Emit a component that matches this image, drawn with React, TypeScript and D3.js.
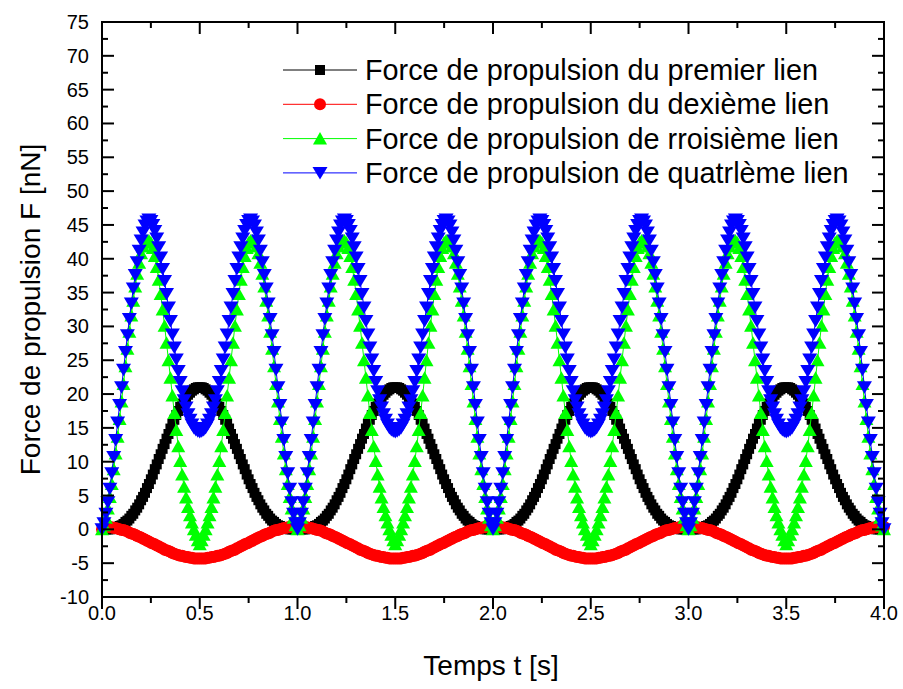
import React from 'react';
import * as d3 from 'd3';

const W = 903;
const H = 689;
const PLOT = { left: 102, right: 884, top: 22, bottom: 597 };

const xTickValues = [0, 0.5, 1, 1.5, 2, 2.5, 3, 3.5, 4];
const yTickValues = [-10, -5, 0, 5, 10, 15, 20, 25, 30, 35, 40, 45, 50, 55, 60, 65, 70, 75];
// samples every 0.01 s from 0 to 4 s (401 values per series)
const timeStep = 0.01;

const seriesNames = [
  'Force de propulsion du premier lien',
  'Force de propulsion du dexième lien',
  'Force de propulsion de rroisième lien',
  'Force de propulsion de quatrlème lien',
];

const blackValues = [
  0,0,0,0,0,0.1,0.1,0.2,0.3,0.5,0.6,0.8,1.1,1.3,1.6,2.0,2.3,2.8,3.2,3.7,4.3,4.8,5.4,6.1,6.7,7.4,8.1,8.9,9.6,10.4,11.1,11.9,12.6,13.4,14.1,14.9,15.6,16.2,16.9,17.5,18.1,18.6,19.1,19.5,19.9,20.2,20.5,20.7,20.9,21.0,21.0,
  21.0,20.9,20.7,20.5,20.2,19.9,19.5,19.1,18.6,18.1,17.5,16.9,16.2,15.6,14.9,14.1,13.4,12.6,11.9,11.1,10.4,9.6,8.9,8.1,7.4,6.7,6.1,5.4,4.8,4.3,3.7,3.2,2.8,2.3,2.0,1.6,1.3,1.1,0.8,0.6,0.5,0.3,0.2,0.1,0.1,0,0,0,0,0,
  0,0,0,0,0.1,0.1,0.2,0.3,0.5,0.6,0.8,1.1,1.3,1.6,2.0,2.3,2.8,3.2,3.7,4.3,4.8,5.4,6.1,6.7,7.4,8.1,8.9,9.6,10.4,11.1,11.9,12.6,13.4,14.1,14.9,15.6,16.2,16.9,17.5,18.1,18.6,19.1,19.5,19.9,20.2,20.5,20.7,20.9,21.0,21.0,
  21.0,20.9,20.7,20.5,20.2,19.9,19.5,19.1,18.6,18.1,17.5,16.9,16.2,15.6,14.9,14.1,13.4,12.6,11.9,11.1,10.4,9.6,8.9,8.1,7.4,6.7,6.1,5.4,4.8,4.3,3.7,3.2,2.8,2.3,2.0,1.6,1.3,1.1,0.8,0.6,0.5,0.3,0.2,0.1,0.1,0,0,0,0,0,
  0,0,0,0,0.1,0.1,0.2,0.3,0.5,0.6,0.8,1.1,1.3,1.6,2.0,2.3,2.8,3.2,3.7,4.3,4.8,5.4,6.1,6.7,7.4,8.1,8.9,9.6,10.4,11.1,11.9,12.6,13.4,14.1,14.9,15.6,16.2,16.9,17.5,18.1,18.6,19.1,19.5,19.9,20.2,20.5,20.7,20.9,21.0,21.0,
  21.0,20.9,20.7,20.5,20.2,19.9,19.5,19.1,18.6,18.1,17.5,16.9,16.2,15.6,14.9,14.1,13.4,12.6,11.9,11.1,10.4,9.6,8.9,8.1,7.4,6.7,6.1,5.4,4.8,4.3,3.7,3.2,2.8,2.3,2.0,1.6,1.3,1.1,0.8,0.6,0.5,0.3,0.2,0.1,0.1,0,0,0,0,0,
  0,0,0,0,0.1,0.1,0.2,0.3,0.5,0.6,0.8,1.1,1.3,1.6,2.0,2.3,2.8,3.2,3.7,4.3,4.8,5.4,6.1,6.7,7.4,8.1,8.9,9.6,10.4,11.1,11.9,12.6,13.4,14.1,14.9,15.6,16.2,16.9,17.5,18.1,18.6,19.1,19.5,19.9,20.2,20.5,20.7,20.9,21.0,21.0,
  21.0,20.9,20.7,20.5,20.2,19.9,19.5,19.1,18.6,18.1,17.5,16.9,16.2,15.6,14.9,14.1,13.4,12.6,11.9,11.1,10.4,9.6,8.9,8.1,7.4,6.7,6.1,5.4,4.8,4.3,3.7,3.2,2.8,2.3,2.0,1.6,1.3,1.1,0.8,0.6,0.5,0.3,0.2,0.1,0.1,0,0,0,0,0,
];

const redValues = [
  0.0,0.2,0.3,0.4,0.3,0.3,0.2,0.2,0.1,0.0,-0.1,-0.1,-0.2,-0.3,-0.5,-0.6,-0.7,-0.8,-1.0,-1.1,-1.2,-1.4,-1.5,-1.7,-1.8,-2.0,-2.1,-2.2,-2.4,-2.5,-2.7,-2.8,-3.0,-3.1,-3.2,-3.3,-3.5,-3.6,-3.7,-3.8,-3.9,-3.9,-4.0,-4.1,-4.1,-4.2,-4.2,-4.3,-4.3,-4.3,-4.3,
  -4.3,-4.3,-4.3,-4.2,-4.2,-4.1,-4.1,-4.0,-3.9,-3.9,-3.8,-3.7,-3.6,-3.5,-3.3,-3.2,-3.1,-3.0,-2.8,-2.7,-2.5,-2.4,-2.2,-2.1,-2.0,-1.8,-1.7,-1.5,-1.4,-1.2,-1.1,-1.0,-0.8,-0.7,-0.6,-0.5,-0.3,-0.2,-0.1,-0.1,0.0,0.1,0.2,0.2,0.3,0.3,0.4,0.4,0.4,0.4,
  0.4,0.4,0.4,0.3,0.3,0.2,0.2,0.1,0.0,-0.1,-0.1,-0.2,-0.3,-0.5,-0.6,-0.7,-0.8,-1.0,-1.1,-1.2,-1.4,-1.5,-1.7,-1.8,-2.0,-2.1,-2.2,-2.4,-2.5,-2.7,-2.8,-3.0,-3.1,-3.2,-3.3,-3.5,-3.6,-3.7,-3.8,-3.9,-3.9,-4.0,-4.1,-4.1,-4.2,-4.2,-4.3,-4.3,-4.3,-4.3,
  -4.3,-4.3,-4.3,-4.2,-4.2,-4.1,-4.1,-4.0,-3.9,-3.9,-3.8,-3.7,-3.6,-3.5,-3.3,-3.2,-3.1,-3.0,-2.8,-2.7,-2.5,-2.4,-2.2,-2.1,-2.0,-1.8,-1.7,-1.5,-1.4,-1.2,-1.1,-1.0,-0.8,-0.7,-0.6,-0.5,-0.3,-0.2,-0.1,-0.1,0.0,0.1,0.2,0.2,0.3,0.3,0.4,0.4,0.4,0.4,
  0.4,0.4,0.4,0.3,0.3,0.2,0.2,0.1,0.0,-0.1,-0.1,-0.2,-0.3,-0.5,-0.6,-0.7,-0.8,-1.0,-1.1,-1.2,-1.4,-1.5,-1.7,-1.8,-2.0,-2.1,-2.2,-2.4,-2.5,-2.7,-2.8,-3.0,-3.1,-3.2,-3.3,-3.5,-3.6,-3.7,-3.8,-3.9,-3.9,-4.0,-4.1,-4.1,-4.2,-4.2,-4.3,-4.3,-4.3,-4.3,
  -4.3,-4.3,-4.3,-4.2,-4.2,-4.1,-4.1,-4.0,-3.9,-3.9,-3.8,-3.7,-3.6,-3.5,-3.3,-3.2,-3.1,-3.0,-2.8,-2.7,-2.5,-2.4,-2.2,-2.1,-2.0,-1.8,-1.7,-1.5,-1.4,-1.2,-1.1,-1.0,-0.8,-0.7,-0.6,-0.5,-0.3,-0.2,-0.1,-0.1,0.0,0.1,0.2,0.2,0.3,0.3,0.4,0.4,0.4,0.4,
  0.4,0.4,0.4,0.3,0.3,0.2,0.2,0.1,0.0,-0.1,-0.1,-0.2,-0.3,-0.5,-0.6,-0.7,-0.8,-1.0,-1.1,-1.2,-1.4,-1.5,-1.7,-1.8,-2.0,-2.1,-2.2,-2.4,-2.5,-2.7,-2.8,-3.0,-3.1,-3.2,-3.3,-3.5,-3.6,-3.7,-3.8,-3.9,-3.9,-4.0,-4.1,-4.1,-4.2,-4.2,-4.3,-4.3,-4.3,-4.3,
  -4.3,-4.3,-4.3,-4.2,-4.2,-4.1,-4.1,-4.0,-3.9,-3.9,-3.8,-3.7,-3.6,-3.5,-3.3,-3.2,-3.1,-3.0,-2.8,-2.7,-2.5,-2.4,-2.2,-2.1,-2.0,-1.8,-1.7,-1.5,-1.4,-1.2,-1.1,-1.0,-0.8,-0.7,-0.6,-0.5,-0.3,-0.2,-0.1,-0.1,0.0,0.1,0.2,0.2,0.3,0.3,0.4,0.4,0.4,0.4,
];

const greenValues = [
  0,0.6,1.7,3.1,4.8,6.7,8.9,11.2,13.7,16.3,18.9,21.5,24.1,26.7,29.2,31.6,33.8,35.9,37.8,39.4,40.8,41.8,42.4,42.7,42.7,42.4,41.6,40.4,38.8,36.9,34.8,32.5,30.1,27.6,25.0,22.4,19.8,17.2,14.7,12.3,10.1,8.1,6.3,4.7,3.3,2.1,1.0,0.0,-0.8,-1.6,-2.2,
  -1.6,-0.8,0.0,1.0,2.1,3.3,4.7,6.3,8.1,10.1,12.3,14.7,17.2,19.8,22.4,25.0,27.6,30.1,32.5,34.8,36.9,38.8,40.4,41.6,42.4,42.7,42.7,42.4,41.8,40.8,39.4,37.8,35.9,33.8,31.6,29.2,26.7,24.1,21.5,18.9,16.3,13.7,11.2,8.9,6.7,4.8,3.1,1.7,0.6,0,
  0.6,1.7,3.1,4.8,6.7,8.9,11.2,13.7,16.3,18.9,21.5,24.1,26.7,29.2,31.6,33.8,35.9,37.8,39.4,40.8,41.8,42.4,42.7,42.7,42.4,41.6,40.4,38.8,36.9,34.8,32.5,30.1,27.6,25.0,22.4,19.8,17.2,14.7,12.3,10.1,8.1,6.3,4.7,3.3,2.1,1.0,0.0,-0.8,-1.6,-2.2,
  -1.6,-0.8,0.0,1.0,2.1,3.3,4.7,6.3,8.1,10.1,12.3,14.7,17.2,19.8,22.4,25.0,27.6,30.1,32.5,34.8,36.9,38.8,40.4,41.6,42.4,42.7,42.7,42.4,41.8,40.8,39.4,37.8,35.9,33.8,31.6,29.2,26.7,24.1,21.5,18.9,16.3,13.7,11.2,8.9,6.7,4.8,3.1,1.7,0.6,0,
  0.6,1.7,3.1,4.8,6.7,8.9,11.2,13.7,16.3,18.9,21.5,24.1,26.7,29.2,31.6,33.8,35.9,37.8,39.4,40.8,41.8,42.4,42.7,42.7,42.4,41.6,40.4,38.8,36.9,34.8,32.5,30.1,27.6,25.0,22.4,19.8,17.2,14.7,12.3,10.1,8.1,6.3,4.7,3.3,2.1,1.0,0.0,-0.8,-1.6,-2.2,
  -1.6,-0.8,0.0,1.0,2.1,3.3,4.7,6.3,8.1,10.1,12.3,14.7,17.2,19.8,22.4,25.0,27.6,30.1,32.5,34.8,36.9,38.8,40.4,41.6,42.4,42.7,42.7,42.4,41.8,40.8,39.4,37.8,35.9,33.8,31.6,29.2,26.7,24.1,21.5,18.9,16.3,13.7,11.2,8.9,6.7,4.8,3.1,1.7,0.6,0,
  0.6,1.7,3.1,4.8,6.7,8.9,11.2,13.7,16.3,18.9,21.5,24.1,26.7,29.2,31.6,33.8,35.9,37.8,39.4,40.8,41.8,42.4,42.7,42.7,42.4,41.6,40.4,38.8,36.9,34.8,32.5,30.1,27.6,25.0,22.4,19.8,17.2,14.7,12.3,10.1,8.1,6.3,4.7,3.3,2.1,1.0,0.0,-0.8,-1.6,-2.2,
  -1.6,-0.8,0.0,1.0,2.1,3.3,4.7,6.3,8.1,10.1,12.3,14.7,17.2,19.8,22.4,25.0,27.6,30.1,32.5,34.8,36.9,38.8,40.4,41.6,42.4,42.7,42.7,42.4,41.8,40.8,39.4,37.8,35.9,33.8,31.6,29.2,26.7,24.1,21.5,18.9,16.3,13.7,11.2,8.9,6.7,4.8,3.1,1.7,0.6,0,
];

const blueValues = [
  0,0.9,2.3,4.0,6.0,8.3,10.7,13.2,15.8,18.4,21.0,23.6,26.2,28.7,31.1,33.4,35.6,37.6,39.5,41.2,42.7,43.9,44.9,45.5,45.8,45.6,45.0,44.1,43.0,41.7,40.2,38.5,36.7,34.8,32.8,30.8,28.8,26.9,25.1,23.4,21.8,20.4,19.1,18.0,17.0,16.2,15.5,15.0,14.7,14.5,14.4,
  14.5,14.7,15.0,15.5,16.2,17.0,18.0,19.1,20.4,21.8,23.4,25.1,26.9,28.8,30.8,32.8,34.8,36.7,38.5,40.2,41.7,43.0,44.1,45.0,45.6,45.8,45.5,44.9,43.9,42.7,41.2,39.5,37.6,35.6,33.4,31.1,28.7,26.2,23.6,21.0,18.4,15.8,13.2,10.7,8.3,6.0,4.0,2.3,0.9,0,
  0.9,2.3,4.0,6.0,8.3,10.7,13.2,15.8,18.4,21.0,23.6,26.2,28.7,31.1,33.4,35.6,37.6,39.5,41.2,42.7,43.9,44.9,45.5,45.8,45.6,45.0,44.1,43.0,41.7,40.2,38.5,36.7,34.8,32.8,30.8,28.8,26.9,25.1,23.4,21.8,20.4,19.1,18.0,17.0,16.2,15.5,15.0,14.7,14.5,14.4,
  14.5,14.7,15.0,15.5,16.2,17.0,18.0,19.1,20.4,21.8,23.4,25.1,26.9,28.8,30.8,32.8,34.8,36.7,38.5,40.2,41.7,43.0,44.1,45.0,45.6,45.8,45.5,44.9,43.9,42.7,41.2,39.5,37.6,35.6,33.4,31.1,28.7,26.2,23.6,21.0,18.4,15.8,13.2,10.7,8.3,6.0,4.0,2.3,0.9,0,
  0.9,2.3,4.0,6.0,8.3,10.7,13.2,15.8,18.4,21.0,23.6,26.2,28.7,31.1,33.4,35.6,37.6,39.5,41.2,42.7,43.9,44.9,45.5,45.8,45.6,45.0,44.1,43.0,41.7,40.2,38.5,36.7,34.8,32.8,30.8,28.8,26.9,25.1,23.4,21.8,20.4,19.1,18.0,17.0,16.2,15.5,15.0,14.7,14.5,14.4,
  14.5,14.7,15.0,15.5,16.2,17.0,18.0,19.1,20.4,21.8,23.4,25.1,26.9,28.8,30.8,32.8,34.8,36.7,38.5,40.2,41.7,43.0,44.1,45.0,45.6,45.8,45.5,44.9,43.9,42.7,41.2,39.5,37.6,35.6,33.4,31.1,28.7,26.2,23.6,21.0,18.4,15.8,13.2,10.7,8.3,6.0,4.0,2.3,0.9,0,
  0.9,2.3,4.0,6.0,8.3,10.7,13.2,15.8,18.4,21.0,23.6,26.2,28.7,31.1,33.4,35.6,37.6,39.5,41.2,42.7,43.9,44.9,45.5,45.8,45.6,45.0,44.1,43.0,41.7,40.2,38.5,36.7,34.8,32.8,30.8,28.8,26.9,25.1,23.4,21.8,20.4,19.1,18.0,17.0,16.2,15.5,15.0,14.7,14.5,14.4,
  14.5,14.7,15.0,15.5,16.2,17.0,18.0,19.1,20.4,21.8,23.4,25.1,26.9,28.8,30.8,32.8,34.8,36.7,38.5,40.2,41.7,43.0,44.1,45.0,45.6,45.8,45.5,44.9,43.9,42.7,41.2,39.5,37.6,35.6,33.4,31.1,28.7,26.2,23.6,21.0,18.4,15.8,13.2,10.7,8.3,6.0,4.0,2.3,0.9,0,
];

const FONT = "'Liberation Sans', Arial, Helvetica, sans-serif";

type Shape = 'square' | 'circle' | 'up' | 'down';

function markerPath(shape: Shape): string {
  if (shape === 'square') return 'M-5,-5H5V5H-5Z';
  if (shape === 'circle') return d3.symbol(d3.symbolCircle, Math.PI * 6 * 6)() as string;
  if (shape === 'up') return 'M0,-6.5L7,6L-7,6Z';
  return 'M0,6.5L7.5,-6L-7.5,-6Z';
}

const seriesStyles: { color: string; shape: Shape }[] = [
  { color: '#000000', shape: 'square' },
  { color: '#ff0000', shape: 'circle' },
  { color: '#00ff00', shape: 'up' },
  { color: '#0000ff', shape: 'down' },
];

export default function App() {
  const x = d3.scaleLinear().domain([0, 4]).range([PLOT.left, PLOT.right]);
  const y = d3.scaleLinear().domain([-10, 75]).range([PLOT.bottom, PLOT.top]);
  const allSeries = [blackValues, redValues, greenValues, blueValues];

  const xMinor = d3.range(0, 16).map((i) => 0.25 + i * 0.5).filter((v) => v < 4);
  const yMinor = d3.range(0, 17).map((i) => -7.5 + i * 5).filter((v) => v < 75);

  const line = d3
    .line<number>()
    .x((_, i) => x(i * timeStep))
    .y((d) => y(d));

  const MAJ = 12;
  const MIN = 6;

  return (
    <svg width={W} height={H} style={{ position: 'absolute', left: 0, top: 0, background: '#fff' }} fontFamily={FONT}>
      <rect x={0} y={0} width={W} height={H} fill="#fff" />
      <defs>
        <clipPath id="plotclip">
          <rect x={PLOT.left - 10} y={PLOT.top} width={PLOT.right - PLOT.left + 20} height={PLOT.bottom - PLOT.top} />
        </clipPath>
      </defs>
      <g clipPath="url(#plotclip)">
        {allSeries.map((vals, si) => {
          const st = seriesStyles[si];
          const p = markerPath(st.shape);
          return (
            <g key={si}>
              <path d={line(vals) as string} fill="none" stroke={st.color} strokeWidth={1} />
              {vals.map((v, i) => (
                <path key={i} d={p} transform={`translate(${x(i * timeStep)},${y(v)})`} fill={st.color} />
              ))}
            </g>
          );
        })}
      </g>
      <rect x={PLOT.left} y={PLOT.top} width={PLOT.right - PLOT.left} height={PLOT.bottom - PLOT.top} fill="none" stroke="#000" strokeWidth={2} />
      {xTickValues.map((v) => (
        <g key={'xt' + v}>
          <line x1={x(v)} x2={x(v)} y1={PLOT.bottom} y2={PLOT.bottom + MAJ} stroke="#000" strokeWidth={2} />
          <line x1={x(v)} x2={x(v)} y1={PLOT.top} y2={PLOT.top + MAJ} stroke="#000" strokeWidth={2} />
          <text x={x(v)} y={PLOT.bottom + 16} textAnchor="middle" fontSize={20} dy="0.35em">
            {v.toFixed(1)}
          </text>
        </g>
      ))}
      {xMinor.map((v) => (
        <g key={'xm' + v}>
          <line x1={x(v)} x2={x(v)} y1={PLOT.bottom} y2={PLOT.bottom + MIN} stroke="#000" strokeWidth={2} />
          <line x1={x(v)} x2={x(v)} y1={PLOT.top} y2={PLOT.top + MIN} stroke="#000" strokeWidth={2} />
        </g>
      ))}
      {yTickValues.map((v) => (
        <g key={'yt' + v}>
          <line x1={PLOT.left} x2={PLOT.left + MAJ} y1={y(v)} y2={y(v)} stroke="#000" strokeWidth={2} />
          <line x1={PLOT.right} x2={PLOT.right - MAJ} y1={y(v)} y2={y(v)} stroke="#000" strokeWidth={2} />
          <text x={PLOT.left - 13} y={y(v)} textAnchor="end" fontSize={20} dy="0.35em">
            {v}
          </text>
        </g>
      ))}
      {yMinor.map((v) => (
        <g key={'ym' + v}>
          <line x1={PLOT.left} x2={PLOT.left + MIN} y1={y(v)} y2={y(v)} stroke="#000" strokeWidth={2} />
          <line x1={PLOT.right} x2={PLOT.right - MIN} y1={y(v)} y2={y(v)} stroke="#000" strokeWidth={2} />
        </g>
      ))}
      <text x={491} y={665} textAnchor="middle" fontSize={28} dy="0.35em">
        Temps t [s]
      </text>
      <text transform={`translate(30,${(PLOT.top + PLOT.bottom) / 2}) rotate(-90)`} textAnchor="middle" fontSize={28} dy="0.35em">
        Force de propulsion F [nN]
      </text>
      {seriesNames.map((name, i) => {
        const st = seriesStyles[i];
        const ly = 70 + i * 34.3;
        return (
          <g key={'lg' + i}>
            <line x1={283} x2={357} y1={ly} y2={ly} stroke={st.color} strokeWidth={1} />
            <path d={markerPath(st.shape)} transform={`translate(320,${ly})`} fill={st.color} />
            <text x={365} y={ly} fontSize={28.8} dy="0.35em">
              {name}
            </text>
          </g>
        );
      })}
    </svg>
  );
}
